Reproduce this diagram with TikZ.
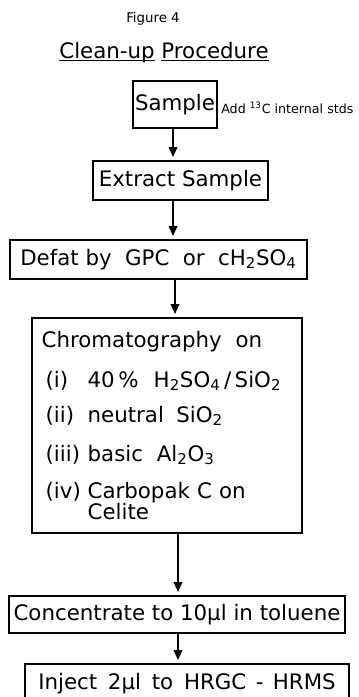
\documentclass[tikz,border=0pt]{standalone}
\usepackage{fontspec}
\setmainfont{DejaVu Sans}
\usetikzlibrary{arrows.meta,positioning}
\newcommand{\ulword}[1]{\setbox0\hbox{#1}\rlap{\rule[-2.5pt]{\wd0}{1pt}}\box0\relax}

\begin{document}
\begin{tikzpicture}[
  x=0.75pt,y=-0.75pt,
  node distance=24pt,
  box/.style={draw,line width=1.3pt,inner sep=0pt,outer sep=0pt,minimum height=29.25pt,
              font=\fontsize{16}{19}\selectfont},
  heading/.style={font=\fontsize{16}{19}\selectfont,inner sep=0pt},
  figlabel/.style={font=\fontsize{10}{12}\selectfont,inner sep=0pt},
  note/.style={font=\fontsize{9.5}{10}\selectfont,inner sep=0pt},
  flow/.style={-{Triangle[width=6.5pt,length=7.5pt]},line width=1.3pt,shorten >=3pt},
]
\useasboundingbox (0,0) rectangle (359,697);

\node[box,minimum width=63pt,minimum height=35.25pt] (sample) at (175,104.5) {Sample};
\node[box,minimum width=131.25pt,below=24.75pt of sample,xshift=4.1pt] (extract) {Extract Sample};
\node[box,minimum width=222.75pt,below=30pt of extract,xshift=-16.5pt] (defat)
  {Defat by\hspace{5pt} GPC\hspace{5pt} or\hspace{5pt} cH\textsubscript{2}SO\textsubscript{4}};
\node[box,minimum width=202.5pt,minimum height=161.25pt,text width=188pt,align=left,
      font=\fontsize{16}{16}\selectfont,below=29.25pt of defat,xshift=6.4pt] (chrom)
  {Chromatography\hspace{5pt} on\\[14pt]
   \hspace*{3pt}\makebox[31.5pt][l]{(i)}40\,\%\hspace{6pt} H\textsubscript{2}SO\textsubscript{4}\,/\,SiO\textsubscript{2}\\[10.25pt]
   \hspace*{3pt}\makebox[31.5pt][l]{(ii)}neutral\hspace{4pt} SiO\textsubscript{2}\\[13.25pt]
   \hspace*{3pt}\makebox[31.5pt][l]{(iii)}basic\hspace{5pt} Al\textsubscript{2}O\textsubscript{3}\\[11.75pt]
   \hspace*{3pt}\makebox[31.5pt][l]{(iv)}Carbopak C on\\
   \hspace*{34.5pt}Celite};
\node[box,minimum width=252pt,minimum height=27.75pt,below=47.25pt of chrom,xshift=7.5pt] (conc)
  {Concentrate to 10µl in toluene};
\node[box,minimum width=243pt,below=23.25pt of conc,xshift=7.5pt] (inject)
  {Inject\hspace{3pt} 2µl\hspace{3pt} to\hspace{3pt} HRGC\hspace{2pt} -\hspace{2pt} HRMS};

\node[heading,anchor=base] (title) at (164,58) {\ulword{Clean-up} \ulword{Procedure}};
\node[figlabel,anchor=base] (fig) at ([xshift=-8.25pt,yshift=27pt]title.base) {Figure 4};
\node[note,right=3pt of sample,yshift=-2.6pt] (stds) {Add \textsuperscript{13}C internal stds};

\draw[flow] ([xshift=-1.5pt]sample.south) -- ([xshift=-1.5pt]sample.south |- extract.north);
\draw[flow] ([xshift=-5.6pt]extract.south) -- ([xshift=-5.6pt]extract.south |- defat.north);
\draw[flow] ([xshift=12.4pt]defat.south) -- ([xshift=12.4pt]defat.south |- chrom.north);
\draw[flow] ([xshift=8.25pt]chrom.south) -- ([xshift=8.25pt]chrom.south |- conc.north);
\draw[flow] ([xshift=0.75pt]conc.south) -- ([xshift=0.75pt]conc.south |- inject.north);
\end{tikzpicture}
\end{document}
